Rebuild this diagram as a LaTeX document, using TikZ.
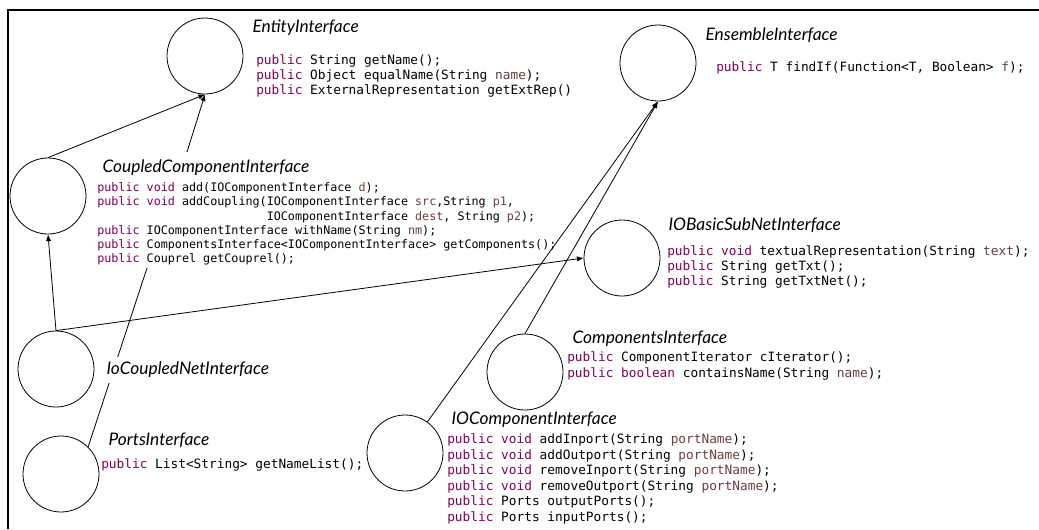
\documentclass[tikz,border=0pt]{standalone}
\usepackage{fontspec}
\usetikzlibrary{arrows.meta}
\newfontfamily\codefont{DejaVu Sans Mono}
\newfontfamily\titlefont{Lato}
\definecolor{kwpurple}{HTML}{7F0055}
\definecolor{pnbrown}{HTML}{6A3E3E}
\newcommand{\kw}[1]{\textcolor{kwpurple}{#1}}
\newcommand{\pn}[1]{\textcolor{pnbrown}{#1}}

\begin{document}
\begin{tikzpicture}[x=0.75pt,y=-0.75pt]
	\tikzset{iface/.style={circle,draw,line width=0.6pt,minimum size=57pt,inner sep=0pt},
	         iname/.style={anchor=west,inner sep=1pt,font=\titlefont\itshape\fontsize{13}{15}\selectfont},
	         code/.style={anchor=west,align=left,inner sep=0pt,font=\codefont\fontsize{9.6}{11.6}\selectfont},
	         codesm/.style={code,font=\codefont\fontsize{8.8}{10.7}\selectfont},
	         link/.style={line width=0.6pt},
	         inherit/.style={link,-{Latex[length=5pt,width=4pt]}}}
	\useasboundingbox (0,0) rectangle (1039,529);
	\draw[line width=1.3pt] (8,529) -- (8,10) -- (1039,10);
	% interfaces
	\node[iface] (ent) at (205,56) {};
	\node[iface] (ens) at (658,63) {};
	\node[iface] (cpl) at (48,196) {};
	\node[iface] (iob) at (622,258) {};
	\node[iface] (icn) at (56,369) {};
	\node[iface] (cmp) at (525,372) {};
	\node[iface] (prt) at (61,474) {};
	\node[iface] (ioc) at (405,453) {};
	\coordinate (cplhook) at (187,152);
	\coordinate (prthook) at (147,268);
	% links
	\draw[inherit] (cpl.north) -- (ent.south);
	\draw[inherit] (cplhook) -- (ent.south);
	\draw[inherit] (icn.north) -- (cpl.south);
	\draw[inherit] (icn.north) -- (iob.west);
	\draw[inherit] (ioc) -- (ens.south);
	\draw[inherit] (cmp.north) -- (ens.south);
	\draw[link] (prt.45) -- (prthook);
	% names
	\node[iname] (entname) at (251,28) {EntityInterface};
	\node[iname] (ensname) at (704,35) {EnsembleInterface};
	\node[iname] (cplname) at (101,168) {CoupledComponentInterface};
	\node[iname] (iobname) at (667,225) {IOBasicSubNetInterface};
	\node[iname] (cmpname) at (571,339) {ComponentsInterface};
	\node[iname,fill=white,inner ysep=4pt] (icnname) at (105,370) {IoCoupledNetInterface};
	\node[iname] (prtname) at (107,440) {PortsInterface};
	\node[iname] (iocname) at (450,420) {IOComponentInterface};
	% methods
	\node[code] (entcode) at (256,76) {\kw{public} String getName();\\
		\kw{public} Object equalName(String \pn{name});\\
		\kw{public} ExternalRepresentation getExtRep()};
	\node[code] (enscode) at (716,68) {\kw{public} T findIf(Function<T, Boolean> \pn{f});};
	\node[codesm] (cplcode) at (97,224) {\kw{public} \kw{void} add(IOComponentInterface \pn{d});\\
		\kw{public} \kw{void} addCoupling(IOComponentInterface \pn{src},String \pn{p1},\\
		\phantom{public void addCoupling(}IOComponentInterface \pn{dest}, String \pn{p2});\\
		\kw{public} IOComponentInterface withName(String \pn{nm});\\
		\kw{public} ComponentsInterface<IOComponentInterface> getComponents();\\
		\kw{public} Couprel getCouprel();};
	\node[code] (iobcode) at (667,267) {\kw{public} \kw{void} textualRepresentation(String \pn{text});\\
		\kw{public} String getTxt();\\
		\kw{public} String getTxtNet();};
	\node[code] (cmpcode) at (567,366) {\kw{public} ComponentIterator cIterator();\\
		\kw{public} \kw{boolean} containsName(String \pn{name});};
	\node[code] (prtcode) at (101,465) {\kw{public} List<String> getNameList();};
	\node[code] (ioccode) at (447,479) {\kw{public} \kw{void} addInport(String \pn{portName});\\
		\kw{public} \kw{void} addOutport(String \pn{portName});\\
		\kw{public} \kw{void} removeInport(String \pn{portName});\\
		\kw{public} \kw{void} removeOutport(String \pn{portName});\\
		\kw{public} Ports outputPorts();\\
		\kw{public} Ports inputPorts();};
\end{tikzpicture}
\end{document}
